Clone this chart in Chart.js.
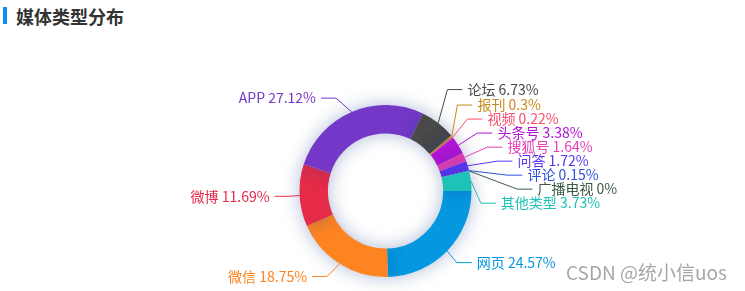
<!DOCTYPE html>
<html>
<head>
<meta charset="utf-8">
<script src="https://cdn.jsdelivr.net/npm/chart.js@4"></script>
<style>
  html, body { margin: 0; padding: 0; background: #fff; }
  body { width: 745px; height: 291px; position: relative; overflow: hidden; font-family: "Noto Sans CJK SC", "Noto Sans", sans-serif; }
  .title { position: absolute; left: 16px; top: 3px; font-size: 18px; font-weight: bold; color: #333; line-height: 26px; }
  .bar { position: absolute; left: 3px; top: 7px; width: 4px; height: 17px; background: #0e8ef0; }
  .mark { position: absolute; left: 566px; top: 260px; font-size: 19px; line-height: 24px; color: rgba(150,150,150,0.85); }
  canvas { position: absolute; left: 0; top: 0; }
</style>
</head>
<body>
<div class="bar"></div>
<div class="title">媒体类型分布</div>
<canvas id="mediaChart" width="745" height="291"></canvas>
<div class="mark">CSDN @统小信uos</div>
<script>
// 数据
const categories = ['网页', '微信', '微博', 'APP', '论坛', '报刊', '视频', '头条号', '搜狐号', '问答', '评论', '广播电视', '其他类型'];
const shares = [24.57, 18.75, 11.69, 27.12, 6.73, 0.3, 0.22, 3.38, 1.64, 1.72, 0.15, 0, 3.73];
const colors = ['#0597e0', '#fe8421', '#e52b48', '#7537c8', '#494949', '#c88a1e', '#fb4d69', '#b414d6', '#e63fb6', '#5b35f0', '#2e50dc', '#3b5b45', '#1fc2b7'];

// 阴影
const shadowPlugin = {
    id: 'shadow',
    beforeDatasetsDraw(chart) {
        const ctx = chart.ctx;
        ctx.save();
        ctx.shadowBlur = 18;
        ctx.shadowColor = 'rgba(20, 60, 140, 0.35)';
    },
    afterDatasetsDraw(chart) {
        chart.ctx.restore();
    }
};

// 外部标签 + 引导线 (类似 echarts 的布局)
const outerLabels = {
    id: 'outerLabels',
    afterDraw(chart) {
        const ctx = chart.ctx;
        const meta = chart.getDatasetMeta(0);
        const len1 = 15, len2 = 15, dist = 5, H = 14;
        let cx = 0, cy = 0, r = 0;
        const left = [], right = [];
        meta.data.forEach((arc, i) => {
            const p = arc.getProps(['x', 'y', 'startAngle', 'endAngle', 'outerRadius'], true);
            cx = p.x; cy = p.y; r = p.outerRadius;
            const mid = (p.startAngle + p.endAngle) / 2;
            const dx = Math.cos(mid), dy = Math.sin(mid);
            const dir = dx < 0 ? -1 : 1;
            const x1 = cx + r * dx, y1 = cy + r * dy;
            const x2 = cx + (r + len1) * dx, y2 = cy + (r + len1) * dy;
            const x3 = x2 + dir * len2;
            const item = { i, dir, pts: [[x1, y1], [x2, y2], [x3, y2]], x: x3 + dir * dist, y: y2 };
            (dir < 0 ? left : right).push(item);
        });

        function adjust(list, dir) {
            list.sort((a, b) => a.y - b.y);
            const n = list.length;
            const viewH = chart.height;
            function shiftUp(end, delta) {
                for (let j = end; j >= 0; j--) {
                    if (list[j].y - delta < 0) break;
                    list[j].y -= delta;
                    if (j > 0 && list[j].y > list[j - 1].y + H) break;
                }
            }
            function shiftDown(start, end, delta) {
                for (let j = start; j < end; j++) {
                    if (list[j].y + delta > viewH) break;
                    list[j].y += delta;
                    if (j > start && j + 1 < end && list[j + 1].y > list[j].y + H) {
                        shiftUp(j, delta / 2);
                        return;
                    }
                }
                shiftUp(end - 1, delta / 2);
            }
            let lastY = 0;
            for (let i = 0; i < n; i++) {
                const d = list[i].y - lastY;
                if (d < 0) shiftDown(i, n, -d);
                lastY = list[i].y + H;
            }
            function changeX(arr, isDown) {
                let last = isDown ? Infinity : 0;
                arr.forEach(l => {
                    const dy = Math.abs(l.y - cy);
                    const L = r + len1 + len2;
                    let dx = dy < r + len1 ? Math.sqrt(L * L - dy * dy) : Math.abs(l.x - cx);
                    if (isDown && dx >= last) dx = last - 10;
                    if (!isDown && dx <= last) dx = last + 10;
                    l.x = cx + dx * dir;
                    last = dx;
                });
            }
            changeX(list.filter(l => l.y >= cy), true);
            changeX(list.filter(l => l.y < cy), false);
            list.forEach(l => {
                l.pts[2][0] = l.x - dir * dist;
                l.pts[1][0] = l.pts[2][0] - dir * len2;
                l.pts[1][1] = l.pts[2][1] = l.y;
            });
        }
        adjust(left, -1);
        adjust(right, 1);

        ctx.save();
        ctx.font = '14px "Noto Sans CJK SC", "Noto Sans", sans-serif';
        ctx.textBaseline = 'middle';
        ctx.lineWidth = 1;
        left.concat(right).forEach(l => {
            const c = colors[l.i];
            ctx.strokeStyle = c;
            ctx.beginPath();
            ctx.moveTo(l.pts[0][0], l.pts[0][1]);
            ctx.lineTo(l.pts[1][0], l.pts[1][1]);
            ctx.lineTo(l.pts[2][0], l.pts[2][1]);
            ctx.stroke();
            ctx.fillStyle = c;
            ctx.textAlign = l.dir < 0 ? 'right' : 'left';
            ctx.fillText(categories[l.i] + ' ' + shares[l.i] + '%', l.x, l.y);
        });
        ctx.restore();
    }
};

const ctx = document.getElementById('mediaChart').getContext('2d');
new Chart(ctx, {
    type: 'doughnut',
    data: {
        labels: categories,
        datasets: [{
            data: shares,
            backgroundColor: colors,
            borderWidth: 0
        }]
    },
    options: {
        responsive: false,
        animation: false,
        rotation: 90,
        radius: 86,
        cutout: '67%',
        layout: { padding: { left: 26, right: 0, top: 91, bottom: 0 } },
        plugins: {
            legend: { display: false },
            tooltip: { enabled: false }
        }
    },
    plugins: [shadowPlugin, outerLabels]
});
</script>
</body>
</html>
